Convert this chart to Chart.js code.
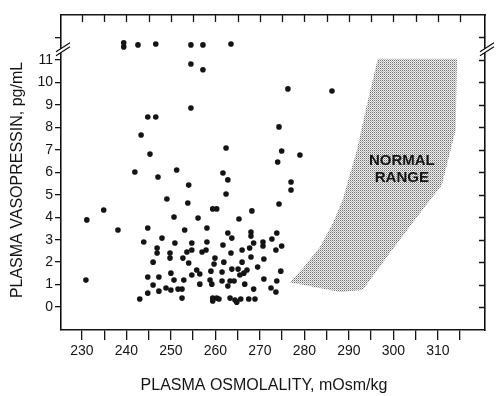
<!DOCTYPE html>
<html>
<head>
<meta charset="utf-8">
<title>Plasma vasopressin vs plasma osmolality</title>
<script src="https://cdn.jsdelivr.net/npm/chart.js@4"></script>
<style>
  html, body { margin: 0; padding: 0; background: #fff; }
  canvas { display: block; }
</style>
</head>
<body>
<canvas id="avpChart" width="500" height="396"></canvas>
<script>
// values (osmolality in mOsm/kg, vasopressin in pg/mL)
const osmolality = [
  254.5, 257.2, 254.5, 244.8, 246.6, 243.3, 245.3, 241.9, 251.3, 247.1, 254.0, 249.1,
  262.4, 261.7, 262.8, 262.4, 276.3, 286.2, 274.3, 274.9, 274.0, 279.0, 277.0, 277.0, 274.3,
  231.1, 234.9, 238.1, 230.9, 243.0, 243.9, 244.8, 244.8, 244.8,
  246.0, 246.0, 246.9, 246.9, 247.3, 247.3, 248.0, 248.9, 249.8, 249.8,
  250.0, 250.0, 250.7, 250.9, 250.7, 251.6, 252.5, 252.5, 252.7, 252.9,
  253.1, 253.8, 254.0, 254.7, 253.6, 254.7, 254.7, 255.8, 256.5, 256.1,
  256.5, 257.0, 257.9, 258.1, 258.1, 259.0, 258.8, 259.2, 259.4, 260.3,
  259.9, 259.7, 259.4, 260.3, 259.4,
  268.2, 265.3, 273.8, 262.8, 263.7, 268.0, 268.0, 272.7, 268.6, 270.7,
  270.7, 274.9, 261.7, 267.7, 266.0, 273.6, 263.5, 268.0, 270.9, 261.9,
  266.0, 269.5, 263.7, 265.1, 267.1, 266.4, 265.5, 274.7, 261.5, 261.5,
  263.3, 264.2, 270.9, 273.8, 266.6, 262.8, 272.5, 273.6, 268.6, 260.8,
  263.3, 264.4, 264.8, 265.7, 267.5, 268.9
];
const vasopressin = [
  10.82, 10.56, 8.86, 8.46, 8.46, 7.66, 6.81, 6.01, 6.10, 5.79, 5.43, 4.81,
  7.08, 5.97, 5.66, 5.03, 9.71, 9.62, 8.02, 6.95, 6.46, 6.77, 5.57, 5.21, 4.59,
  3.88, 4.32, 3.43, 1.20, 0.36, 2.90, 3.52, 1.34, 0.62,
  2.00, 0.98, 2.63, 2.41, 1.34, 0.71, 3.07, 0.85, 2.41, 2.18,
  1.51, 0.76, 4.01, 2.85, 1.20, 0.80, 0.80, 0.40, 2.18, 1.20,
  3.43, 4.63, 1.96, 2.85, 2.45, 2.54, 1.43, 1.65, 1.47, 3.96,
  1.02, 2.45, 2.54, 3.52, 2.90, 1.60, 1.20, 1.02, 4.37, 4.37,
  2.18, 1.92, 0.40, 0.40, 0.27,
  4.28, 3.92, 3.30, 3.30, 3.07, 3.34, 3.16, 3.03, 2.85, 2.90,
  2.72, 2.72, 2.76, 2.63, 2.54, 2.54, 2.41, 2.23, 2.14, 2.00,
  2.00, 1.78, 1.69, 1.69, 1.65, 1.51, 1.43, 1.60, 1.56, 1.16,
  1.16, 1.16, 1.25, 1.16, 1.02, 0.94, 0.85, 0.67, 0.80, 0.36,
  0.40, 0.31, 0.22, 0.36, 0.36, 0.36
];

// values above 11 pg/mL, plotted beyond the axis break
const offScaleOsm = [239.4, 239.4, 242.6, 246.6, 254.5, 257.2, 263.5];
const offScaleAvp = [11.76, 11.58, 11.67, 11.71, 11.67, 11.67, 11.71];

// outline of the shaded normal range
const normalOsm = [296.5, 314.3, 314.0, 310.9, 306.0, 299.2, 293.1, 288.0, 276.7, 279.7, 283.5, 286.4, 288.6, 291.8, 294.3, 296.5];
const normalAvp = [11.05, 11.05, 7.88, 5.43, 4.19, 2.41, 0.76, 0.67, 1.1, 1.74, 2.67, 3.74, 4.77, 6.99, 9.22, 11.05];

const osmTicks = [230, 235, 240, 245, 250, 255, 260, 265, 270, 275, 280, 285, 290, 295, 300, 305, 310, 315];
const osmLabels = [230, 240, 250, 260, 270, 280, 290, 300, 310];
const avpTicks = [0, 1, 2, 3, 4, 5, 6, 7, 8, 9, 10, 11, 12];
const avpLabels = [0, 1, 2, 3, 4, 5, 6, 7, 8, 9, 10, 11];

const INK = '#141414';
Chart.defaults.font.family = '"Liberation Sans", Arial, Helvetica, sans-serif';
Chart.defaults.color = INK;

const canvas = document.getElementById('avpChart');
const ctx = canvas.getContext('2d');

// dotted screen for the normal range
function stipple() {
  const tile = document.createElement('canvas');
  tile.width = 2; tile.height = 2;
  const g = tile.getContext('2d');
  g.fillStyle = '#f0f0f0'; g.fillRect(0, 0, 2, 2);
  g.fillStyle = '#6e6e6e'; g.fillRect(0, 0, 1, 1);
  g.fillStyle = '#b4b4b4'; g.fillRect(1, 1, 1, 1);
  return ctx.createPattern(tile, 'repeat');
}

const pts = (xs, ys) => xs.map((x, i) => ({ x, y: ys[i] }));

// inward ticks on top/right, the axis breaks and the text
const decorations = {
  id: 'decorations',
  afterDatasetsDraw(chart) {
    const { ctx, scales: { x, y } } = chart;
    ctx.save();
    ctx.fillStyle = INK;
    ctx.font = 'bold 15px "Liberation Sans", Arial, sans-serif';
    ctx.textAlign = 'center';
    ctx.textBaseline = 'middle';
    ctx.fillText('NORMAL', x.getPixelForValue(301.9), y.getPixelForValue(6.5));
    ctx.fillText('RANGE', x.getPixelForValue(301.9), y.getPixelForValue(5.75));
    ctx.restore();
  },
  afterDraw(chart) {
    const { ctx, chartArea: a, scales: { x, y } } = chart;
    ctx.save();
    ctx.strokeStyle = INK;
    ctx.lineWidth = 1.3;
    ctx.beginPath();
    osmTicks.forEach(v => {
      const px = Math.round(x.getPixelForValue(v)) + 0.5;
      ctx.moveTo(px, a.top); ctx.lineTo(px, a.top + 7);
    });
    avpTicks.forEach(v => {
      const py = Math.round(y.getPixelForValue(v)) + 0.5;
      ctx.moveTo(a.right, py); ctx.lineTo(a.right - 6, py);
    });
    ctx.stroke();

    // "//" break marks on both vertical axes
    const yb = y.getPixelForValue(11.5);
    [a.left, a.right].forEach(xb => {
      ctx.fillStyle = '#fff';
      ctx.beginPath();
      ctx.moveTo(xb - 5, yb + 3); ctx.lineTo(xb + 9, yb - 6);
      ctx.lineTo(xb + 9, yb - 2); ctx.lineTo(xb - 5, yb + 7);
      ctx.closePath(); ctx.fill();
      ctx.beginPath();
      ctx.moveTo(xb - 5, yb + 3); ctx.lineTo(xb + 9, yb - 6);
      ctx.moveTo(xb - 5, yb + 7); ctx.lineTo(xb + 9, yb - 2);
      ctx.stroke();
    });

    // axis titles
    ctx.fillStyle = INK;
    ctx.font = '16px "Liberation Sans", Arial, sans-serif';
    ctx.textAlign = 'center';
    ctx.textBaseline = 'middle';
    ctx.fillText('PLASMA OSMOLALITY, mOsm/kg', 264, 386);
    ctx.translate(18, 180);
    ctx.rotate(-Math.PI / 2);
    ctx.fillText('PLASMA VASOPRESSIN, pg/mL', 0, 0);
    ctx.restore();
  }
};

const frame = { display: true, color: INK, width: 1.6 };

new Chart(ctx, {
  type: 'scatter',
  data: {
    datasets: [
      { data: pts(osmolality, vasopressin), pointRadius: 2.8, pointBackgroundColor: INK, pointBorderWidth: 0, order: 0 },
      { data: pts(offScaleOsm, offScaleAvp), pointRadius: 2.8, pointBackgroundColor: INK, pointBorderWidth: 0, order: 0 },
      { type: 'line', data: pts(normalOsm, normalAvp), showLine: true, fill: 'shape', backgroundColor: stipple(),
        borderWidth: 0, borderColor: 'rgba(0,0,0,0)', pointRadius: 0, tension: 0, order: 5 }
    ]
  },
  options: {
    responsive: false,
    animation: false,
    events: [],
    layout: { padding: 0 },
    plugins: { legend: { display: false }, tooltip: { enabled: false } },
    scales: {
      x: {
        type: 'linear', position: 'bottom', min: 225.3, max: 320.6,
        afterBuildTicks: s => { s.ticks = osmTicks.map(v => ({ value: v })); },
        afterFit: s => { s.height = 66; },
        grid: { display: true, drawOnChartArea: false, drawTicks: true, tickLength: 10, color: INK, lineWidth: 1.3 },
        border: frame,
        ticks: { autoSkip: false, maxRotation: 0, padding: 3, font: { size: 14 },
                 callback: v => osmLabels.includes(v) ? String(v) : '' }
      },
      x2: {
        type: 'linear', position: 'top', min: 225.3, max: 320.6,
        afterFit: s => { s.height = 15; },
        grid: { display: false }, border: frame, ticks: { display: false }
      },
      y: {
        type: 'linear', position: 'left', min: -1.02, max: 13.0,
        afterBuildTicks: s => { s.ticks = avpTicks.map(v => ({ value: v })); },
        afterFit: s => { s.width = 61; },
        grid: { display: true, drawOnChartArea: false, drawTicks: true, tickLength: 6, color: INK, lineWidth: 1.3 },
        border: frame,
        ticks: { autoSkip: false, padding: 2, font: { size: 14 },
                 callback: v => avpLabels.includes(v) ? String(v) : '' }
      },
      y2: {
        type: 'linear', position: 'right', min: -1.02, max: 13.0,
        afterFit: s => { s.width = 15; },
        grid: { display: false }, border: frame, ticks: { display: false }
      }
    }
  },
  plugins: [decorations]
});
</script>
</body>
</html>
